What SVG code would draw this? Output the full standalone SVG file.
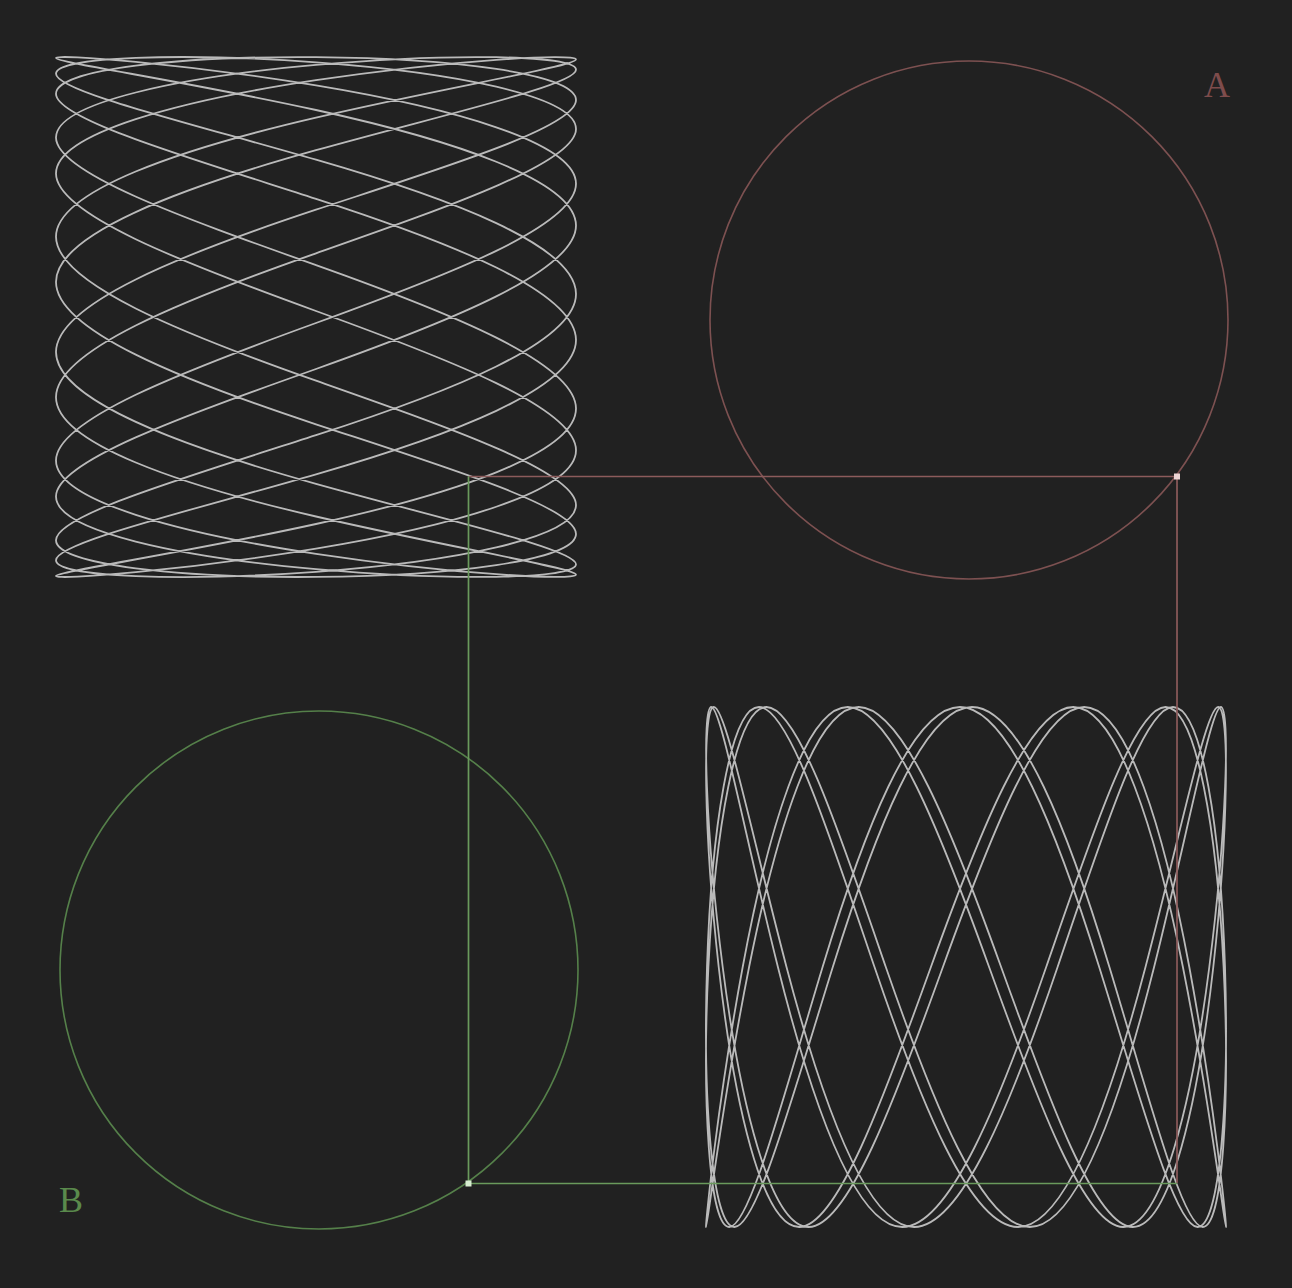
<svg xmlns="http://www.w3.org/2000/svg" width="1292" height="1288" viewBox="0 0 1292 1288">
<style>
.bg{fill:#212121}
.curve{fill:none;stroke:#c8c8c8;stroke-width:1.8;stroke-linejoin:round;opacity:0.92}
.ring-a{fill:none;stroke:#7d5151;stroke-width:1.6}
.ring-b{fill:none;stroke:#55804a;stroke-width:1.6}
.link-a{fill:none;stroke:#8c5b5b;stroke-width:1.7}
.link-b{fill:none;stroke:#6a9a5c;stroke-width:1.7}
.label{font-family:"Liberation Serif","DejaVu Serif",serif;font-size:36px;text-anchor:middle}
</style>
<rect class="bg" x="0" y="0" width="1292" height="1288"/>
<g id="curve-top-left">
<path class="curve" d="M576,533.9 C576,507.1 450,468.6 316,424.3 C182,380.1 56,330.1 56,281.9 C56,233.7 182,187.5 316,150.2 C450,112.9 576,84.7 576,69.7 C576,54.7 450,53 316,64.9 C182,76.9 56,102.3 56,137.5 C56,172.6 182,217.4 316,265.1 C450,312.7 576,363.1 576,408.6 C576,454.1 450,494.6 316,524 C182,553.4 56,571.6 56,576 C56,580.3 182,570.7 316,548.6 C450,526.5 576,491.9 576,450.2 C576,408.4 450,359.6 316,311 C182,262.4 56,214.1 56,173.6 C56,133 182,100.3 316,80.2 C450,60.1 576,52.8 576,59.4 C576,66 450,86.4 316,117.6 C182,148.7 56,190.6 56,236.8 C56,283.1 182,333.6 316,380.7 C450,427.9 576,471.5 576,505.1 C576,538.7 450,562 316,571.8 C182,581.5 56,577.5 56,560.3 C56,543.2 182,513 316,474.3 C450,435.6 576,388.5 576,340.1 C576,291.7 450,242.1 316,198.8 C182,155.5 56,118.6 56,93.7 C56,68.8 182,56 316,57.1 C450,58.2 576,73.3 576,100.1 C576,127 450,165.4 316,209.7 C182,254 56,303.9 56,352.1 C56,400.3 182,446.5 316,483.8 C450,521.1 576,549.4 576,564.3 C576,579.3 450,581 316,569.1 C182,557.2 56,531.7 56,496.5 C56,461.4 182,416.6 316,369 C450,321.3 576,271 576,225.5 C576,180 450,139.4 316,110 C182,80.6 56,62.4 56,58 C56,53.7 182,63.3 316,85.4 C450,107.6 576,142.1 576,183.8 C576,225.6 450,274.4 316,323 C182,371.6 56,419.9 56,460.4 C56,501 182,533.7 316,553.8 C450,573.9 576,581.2 576,574.6 C576,568.1 450,547.6 316,516.5 C182,485.3 56,443.4 56,397.2 C56,350.9 182,300.4 316,253.3 C450,206.1 576,162.5 576,128.9 C576,95.4 450,72 316,62.3 C182,52.5 56,56.6 56,73.7 C56,90.8 182,121 316,159.7 C450,198.4 576,245.5 576,293.9 C576,342.3 450,391.9 316,435.2 C182,478.5 56,515.4 56,540.3 C56,565.2 182,578.1 316,576.9 C450,575.8 576,560.7 576,533.9Z"/>
</g>
<g id="curve-bottom-right">
<path class="curve" d="M1109.4,967 C1150,1101 1182.7,1227 1202.8,1227 C1222.9,1227 1230.2,1101 1223.6,967 C1217,833 1196.7,707 1165.5,707 C1134.3,707 1092.5,833 1046.2,967 C1000,1101 949.4,1227 902.3,1227 C855.2,1227 811.5,1101 777.9,967 C744.3,833 721,707 711.3,707 C701.6,707 705.6,833 722.7,967 C739.8,1101 770,1227 808.7,1227 C847.4,1227 894.5,1101 942.9,967 C991.3,833 1040.9,707 1084.2,707 C1127.5,707 1164.4,833 1189.3,967 C1214.2,1101 1227,1227 1225.9,1227 C1224.8,1227 1209.7,1101 1182.9,967 C1156.1,833 1117.6,707 1073.3,707 C1029,707 979.1,833 930.9,967 C882.7,1101 836.5,1227 799.2,1227 C761.9,1227 733.7,1101 718.7,967 C703.7,833 702,707 713.9,707 C725.8,707 751.3,833 786.5,967 C821.7,1101 866.5,1227 914.1,1227 C961.7,1227 1012.1,1101 1057.6,967 C1103.1,833 1143.6,707 1173,707 C1202.4,707 1220.7,833 1225,967 C1229.3,1101 1219.7,1227 1197.6,1227 C1175.5,1227 1141,1101 1099.2,967 C1057.4,833 1008.6,707 960,707 C911.4,707 863.2,833 822.6,967 C782.1,1101 749.3,1227 729.2,1227 C709.1,1227 701.8,1101 708.4,967 C715,833 735.4,707 766.6,707 C797.8,707 839.6,833 885.8,967 C932.1,1101 982.6,1227 1029.7,1227 C1076.8,1227 1120.5,1101 1154.1,967 C1187.7,833 1211.1,707 1220.8,707 C1230.5,707 1226.4,833 1209.3,967 C1192.2,1101 1162,1227 1123.3,1227 C1084.6,1227 1037.5,1101 989.1,967 C940.7,833 891.1,707 847.8,707 C804.5,707 767.6,833 742.7,967 C717.8,1101 705,1227 706.1,1227 C707.2,1227 722.3,1101 749.1,967 C775.9,833 814.4,707 858.7,707 C903,707 952.9,833 1001.1,967 C1049.3,1101 1095.5,1227 1132.8,1227 C1170.1,1227 1198.3,1101 1213.3,967 C1228.3,833 1230,707 1218.1,707 C1206.2,707 1180.7,833 1145.5,967 C1110.3,1101 1065.6,1227 1018,1227 C970.4,1227 920,1101 874.5,967 C829,833 788.4,707 759,707 C729.6,707 711.3,833 707,967 C702.7,1101 712.3,1227 734.4,1227 C756.5,1227 791,1101 832.8,967 C874.6,833 923.4,707 972,707 C1020.6,707 1068.9,833 1109.4,967Z"/>
</g>
<g id="circle-a">
<circle class="ring-a" cx="969" cy="320" r="259"/>
</g>
<g id="circle-b">
<circle class="ring-b" cx="319" cy="970" r="259"/>
</g>
<g id="connectors">
<path class="link-a" d="M469,476.5 H1177 V1183"/>
<path class="link-b" d="M468.5,476.5 V1183.5 H1177"/>
</g>
<g id="pen-a">
<rect x="1174" y="473.5" width="6" height="6" fill="#ecd4d4"/>
</g>
<g id="pen-b">
<rect x="465.5" y="1180.5" width="6" height="6" fill="#d6ecd0"/>
</g>
<g id="label-a">
<text class="label" x="1217" y="97" fill="#7e4c4c">A</text>
</g>
<g id="label-b">
<text class="label" x="71" y="1212" fill="#5a8a4c">B</text>
</g>
</svg>
